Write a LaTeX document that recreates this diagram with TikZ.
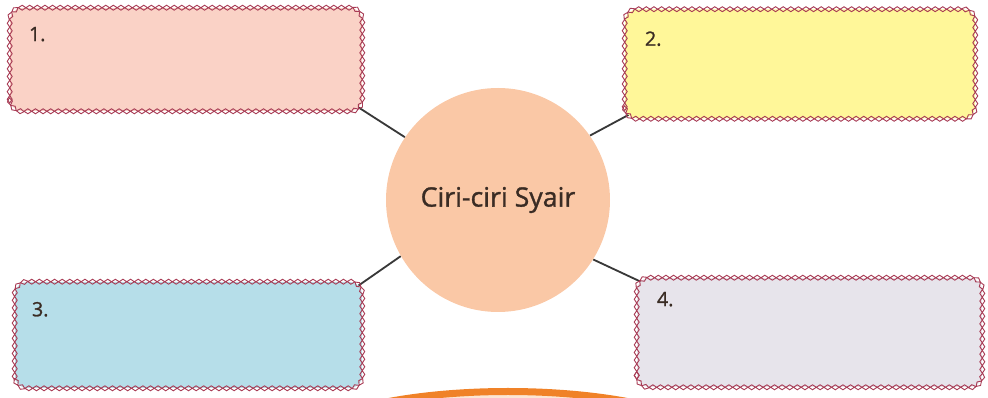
\documentclass[tikz,border=0pt]{standalone}
\usepackage{fontspec}
\setmainfont{Open Sans}
\newfontfamily\medfont{Open Sans}[FakeBold=1.2]
\usetikzlibrary{decorations.markings,backgrounds}
\definecolor{lace}{HTML}{A83C55}
\definecolor{fillA}{HTML}{FAD2C6}
\definecolor{fillB}{HTML}{FFF799}
\definecolor{fillC}{HTML}{B6DEE9}
\definecolor{fillD}{HTML}{E7E4EB}
\definecolor{circfill}{HTML}{FAC8A6}
\definecolor{linkcol}{HTML}{383838}
\definecolor{ringcol}{HTML}{F08228}
\definecolor{ringfill}{HTML}{FCE6D4}
\definecolor{txtcol}{HTML}{3A2C24}
\tikzset{
  boxbase/.style={rectangle, rounded corners=12*0.025cm, inner sep=0pt, fill=#1},
  lacepath/.style={rounded corners=12*0.025cm, decorate, decoration={markings,
      mark=between positions 0 and 1 step 0.19cm with {
        \draw[lace, line width=0.65pt, sharp corners] (-0.095cm,0)--(0,0.062cm)--(0.095cm,0)--(0,-0.062cm)--cycle;}}},
  numlab/.style={font=\medfont\fontsize{14}{16}\selectfont, text=txtcol, inner sep=0pt, anchor=north west},
  link/.style={draw=linkcol, line width=1.3pt},
}
\begin{document}
\begin{tikzpicture}[x=0.025cm, y=-0.025cm]
\useasboundingbox (0,0) rectangle (988,398);
\begin{scope}
\clip (0,0) rectangle (988,398);
\draw[line width=7*0.025cm, draw=ringcol, fill=ringfill] (508,451.5) ellipse [x radius=215.5, y radius=60];
\end{scope}
\node[boxbase=fillA, minimum width=352*0.025cm, minimum height=103*0.025cm] (b1) at (186,59.5) {};
\node[boxbase=fillB, minimum width=350*0.025cm, minimum height=109*0.025cm] (b2) at (800,64) {};
\node[boxbase=fillC, minimum width=347*0.025cm, minimum height=106*0.025cm] (b3) at (188.5,335) {};
\node[boxbase=fillD, minimum width=345*0.025cm, minimum height=109*0.025cm] (b4) at (809.5,332.5) {};
\foreach \b in {b1,b2,b3,b4}
  \path[lacepath] (\b.south west) rectangle (\b.north east);
\node[numlab] (n1) at ([shift={(19,19)}]b1.north west) {1.};
\node[numlab] (n2) at ([shift={(20,22)}]b2.north west) {2.};
\node[numlab] (n3) at ([shift={(17,20)}]b3.north west) {3.};
\node[numlab] (n4) at ([shift={(20,14)}]b4.north west) {4.};
\node[circle, fill=circfill, minimum size=224*0.025cm, inner sep=0pt, text=txtcol, font=\medfont\fontsize{19}{22}\selectfont] (c) at (498,200) {Ciri-ciri Syair};
\begin{scope}[on background layer]
\draw[link] (c.146) -- ([shift={(-4,-4)}]b1.south east);
\draw[link] (c.35) -- ([shift={(4,-4)}]b2.south west);
\draw[link] (c.210) -- ([shift={(-4,4)}]b3.north east);
\draw[link] (c.328) -- ([shift={(4,4)}]b4.north west);
\end{scope}
\end{tikzpicture}
\end{document}
